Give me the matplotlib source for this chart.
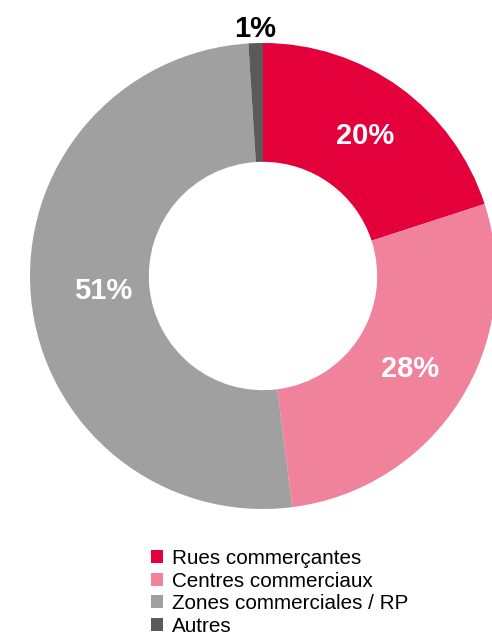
import matplotlib.pyplot as plt
import numpy as np

plt.rcParams['font.family'] = ['Liberation Sans', 'DejaVu Sans']

# data
labels = ['Rues commerçantes', 'Centres commerciaux', 'Zones commerciales / RP', 'Autres']
values = [20, 28, 51, 1]
pct_labels = ['20%', '28%', '51%', '1%']
colors = ['#E4003A', '#F0829C', '#A0A0A0', '#5A5A5A']

fig = plt.figure(figsize=(4.92, 6.43), dpi=100)

# donut axes: center (263, 276) px, radius ~233 px
cx, cy, r = 263 / 492, 1 - 276 / 643, 233
ax = fig.add_axes([cx - r / 492, cy - r / 643, 2 * r / 492, 2 * r / 643])
wedges, _ = ax.pie(values, colors=colors, startangle=90, counterclock=False,
                   radius=1.0, wedgeprops=dict(width=0.51, linewidth=0))
ax.set_xlim(-1, 1)
ax.set_ylim(-1, 1)
ax.set_aspect('equal')
ax.axis('off')

# percentage labels at the middle of each wedge
dists = [0.745, 0.745, 0.69, 1.06]
txt_colors = ['white', 'white', 'white', 'black']
for w, lab, d, c in zip(wedges, pct_labels, dists, txt_colors):
    mid = np.deg2rad((w.theta1 + w.theta2) / 2)
    ax.text(d * np.cos(mid), d * np.sin(mid), lab, ha='center', va='center',
            fontsize=21, fontweight='bold', color=c, clip_on=False)

leg = fig.legend(wedges, labels, loc='upper left', bbox_to_anchor=(151 / 492, 1 - 549 / 643),
                 frameon=False, fontsize=14.9, handlelength=0.6, handleheight=0.6,
                 handletextpad=0.4, labelspacing=0.17, borderpad=0, borderaxespad=0)

fig.savefig('out.png', dpi=100)
